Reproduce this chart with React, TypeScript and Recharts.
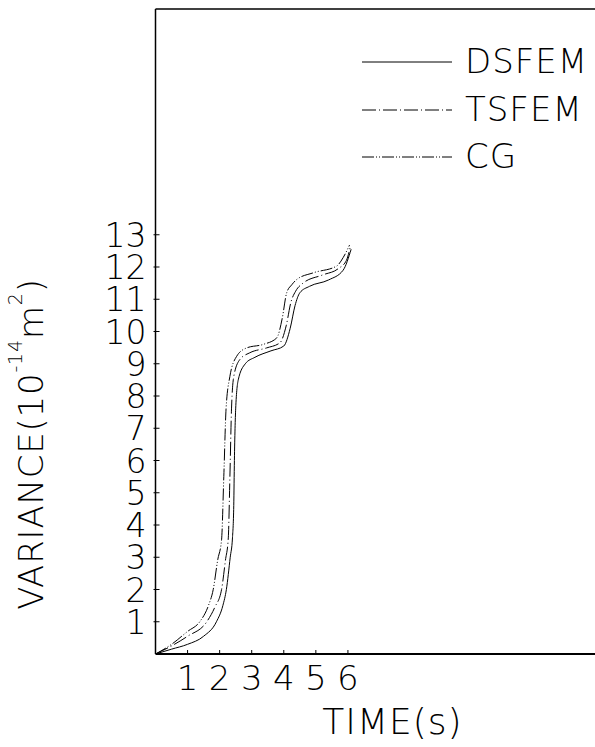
import React from 'react';
import { LineChart, Line, XAxis, YAxis, ReferenceLine } from 'recharts';

const xTicks = [1, 2, 3, 4, 5, 6];
const yTicks = [1, 2, 3, 4, 5, 6, 7, 8, 9, 10, 11, 12, 13];
const xDomain = [0, 14];
const yDomain = [0, 20];

const seriesNames = ['DSFEM', 'TSFEM', 'CG'];
const seriesDash = ['', '14 3 1 3', '12 2 1 2 1 2'];

const dsfemT = [0, 0.5, 1.0, 1.5, 1.9, 2.1, 2.21, 2.33, 2.4, 2.44, 2.46, 2.5, 2.58, 2.8, 3.1, 3.6, 4.0, 4.2, 4.35, 4.5, 4.8, 5.4, 5.85, 6.1];
const dsfemV = [0, 0.15, 0.3, 0.55, 1.0, 1.5, 2.0, 3.0, 3.6, 4.6, 6.0, 7.6, 8.5, 9.0, 9.2, 9.4, 9.55, 10.1, 10.8, 11.2, 11.4, 11.6, 11.9, 12.55];

const tsfemT = [0, 0.5, 1.0, 1.6, 1.85, 2.06, 2.18, 2.27, 2.32, 2.37, 2.44, 2.63, 2.94, 3.46, 3.88, 4.08, 4.22, 4.37, 4.6, 5.2, 5.7, 5.95, 6.08];
const tsfemV = [0, 0.25, 0.55, 1.0, 1.45, 2.0, 2.9, 3.6, 5.5, 7.6, 8.6, 9.13, 9.34, 9.49, 9.65, 10.2, 10.9, 11.25, 11.5, 11.75, 11.95, 12.2, 12.65];

const cgT = [0, 0.5, 1.0, 1.38, 1.65, 1.8, 1.94, 2.06, 2.13, 2.2, 2.32, 2.53, 2.84, 3.36, 3.78, 3.95, 4.09, 4.25, 4.4, 4.92, 5.65, 5.85, 6.05];
const cgV = [0, 0.3, 0.7, 1.0, 1.5, 2.0, 2.92, 3.54, 5.5, 7.6, 8.61, 9.23, 9.49, 9.6, 9.8, 10.4, 11.2, 11.45, 11.61, 11.82, 12.03, 12.29, 12.68];

const toPoints = (t: number[], v: number[]) => t.map((x, i) => ({ t: x, v: v[i] }));

const seriesData = [toPoints(dsfemT, dsfemV), toPoints(tsfemT, tsfemV), toPoints(cgT, cgV)];

const FONT = '"DejaVu Sans", sans-serif';
const WEIGHT = 200;

const XTick = (props: any) => {
  const { x, y, payload } = props;
  return (
    <g>
      <line x1={x} x2={x} y1={y} y2={y - 4} stroke="#000" strokeWidth={1} />
      <text x={x} y={y + 36} textAnchor="middle" fontFamily={FONT} fontWeight={WEIGHT} fontSize={34} fill="#000">
        {payload.value}
      </text>
    </g>
  );
};

const YTick = (props: any) => {
  const { x, y, payload } = props;
  return (
    <g>
      <line x1={x - 2} x2={x + 4} y1={y} y2={y} stroke="#000" strokeWidth={1} />
      <text x={x - 9} y={y + 12} textAnchor="end" fontFamily={FONT} fontWeight={WEIGHT} fontSize={33} fill="#000">
        {payload.value}
      </text>
    </g>
  );
};

const XLabel = (props: any) => {
  const vb = props.viewBox || { x: 155.5, y: 654 };
  return (
    <text x={vb.x + 237} y={vb.y + 80} textAnchor="middle" fontFamily={FONT} fontWeight={WEIGHT} fontSize={36} letterSpacing={1} fill="#000">
      TIME(s)
    </text>
  );
};

const YLabel = () => {
  const cx = 31;
  const cy = 444;
  return (
    <text
      x={cx}
      y={cy}
      transform={`rotate(-90, ${cx}, ${cy})`}
      textAnchor="middle"
      dominantBaseline="central"
      fontFamily={FONT}
      fontWeight={WEIGHT}
      fontSize={34}
      letterSpacing={0.8}
      fill="#000"
    >
      <tspan>VARIANCE(10</tspan>
      <tspan fontSize={19} dy={-16}>-14</tspan>
      <tspan dy={16}>m</tspan>
      <tspan fontSize={19} dy={-16}>2</tspan>
      <tspan dy={16}>)</tspan>
    </text>
  );
};

const legendRows = [62, 110, 157];

const LegendOverlay = () => (
  <svg width={595} height={200} style={{ position: 'absolute', left: 0, top: 0, pointerEvents: 'none' }}>
    {seriesNames.map((name, i) => {
      const y = legendRows[i];
      return (
        <g key={name}>
          <line x1={362} x2={452} y1={y} y2={y} stroke="#000" strokeWidth={1} strokeDasharray={seriesDash[i] || undefined} />
          <text x={465} y={y + 11} fontFamily={FONT} fontWeight={WEIGHT} fontSize={34} letterSpacing={1} fill="#000">
            {name}
          </text>
        </g>
      );
    })}
  </svg>
);

export default function App() {
  return (
    <div style={{ position: 'absolute', left: 0, top: 0, width: 595, height: 747, overflow: 'hidden', background: '#fff' }}>
      <LineChart width={620} height={747} margin={{ top: 9, right: 15.5, bottom: 33, left: 5.5 }}>
        <XAxis
          type="number"
          dataKey="t"
          domain={xDomain}
          ticks={xTicks}
          interval={0}
          allowDataOverflow
          height={60}
          tickSize={0}
          tickMargin={0}
          tickLine={false}
          tick={<XTick />}
          axisLine={{ stroke: '#000', strokeWidth: 2 }}
          label={<XLabel />}
        />
        <YAxis
          type="number"
          dataKey="v"
          domain={yDomain}
          ticks={yTicks}
          interval={0}
          allowDataOverflow
          width={150}
          tickSize={0}
          tickMargin={0}
          tickLine={false}
          tick={<YTick />}
          axisLine={{ stroke: '#000', strokeWidth: 1.5 }}
          label={<YLabel />}
        />
        <ReferenceLine y={20} stroke="#000" strokeWidth={1.5} />
        {seriesNames.map((name, i) => (
          <Line
            key={name}
            name={name}
            data={seriesData[i]}
            dataKey="v"
            type="monotone"
            stroke="#000"
            strokeWidth={1}
            strokeDasharray={seriesDash[i] || undefined}
            dot={false}
            isAnimationActive={false}
          />
        ))}
      </LineChart>
      <LegendOverlay />
    </div>
  );
}
